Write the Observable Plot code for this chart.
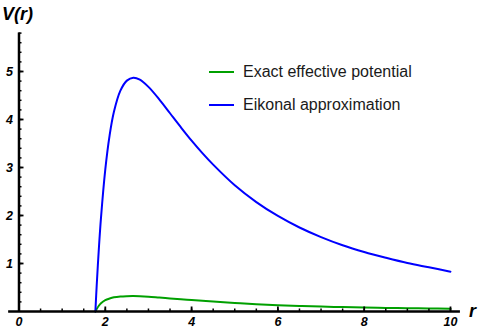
<!DOCTYPE html>
<html>
<head>
<meta charset="utf-8">
<script src="https://cdn.jsdelivr.net/npm/d3@7"></script>
<script src="https://cdn.jsdelivr.net/npm/@observablehq/plot@0.6"></script>
<style>
  html, body { margin: 0; padding: 0; background: #fff; }
  #wrap { position: relative; width: 480px; height: 335px; font-family: "Liberation Sans", Arial, sans-serif; }
  .axlabel { position: absolute; font-family: "Liberation Sans", Arial, sans-serif; font-weight: bold; font-style: italic; font-size: 18px; color: #000; line-height: 1; }
  #legend { position: absolute; left: 209px; top: 62px; font-size: 16px; color: #1a1a1a; }
  #legend .row { display: flex; align-items: center; height: 20px; margin-bottom: 12.7px; }
  #legend .sw { display: inline-block; width: 25px; height: 0; border-top: 2px solid; margin-right: 9px; }
</style>
</head>
<body>
<div id="wrap"></div>
<script>
// Data
const r = [1.77,1.8,1.85,1.9,2.0,2.1,2.2,2.35,2.5,2.65,2.8,3.0,3.25,3.5,3.75,4.0,4.25,4.5,5.0,5.5,6.0,6.5,7.0,7.5,8.0,8.5,9.0,9.5,10.0];
const eikonal = [0,0.53,1.30,1.95,2.96,3.67,4.16,4.60,4.81,4.87,4.83,4.68,4.42,4.13,3.84,3.56,3.30,3.06,2.63,2.28,1.99,1.75,1.55,1.38,1.24,1.12,1.01,0.92,0.83];
const exact = [0,0.05,0.12,0.17,0.235,0.27,0.295,0.313,0.32,0.322,0.318,0.308,0.29,0.272,0.255,0.238,0.222,0.206,0.178,0.152,0.132,0.116,0.103,0.092,0.083,0.075,0.069,0.063,0.057];
const seriesNames = ["Exact effective potential", "Eikonal approximation"];
const seriesColors = ["#00a000", "#0000ff"];
const xTicks = [0, 2, 4, 6, 8, 10];
const yTicks = [1, 2, 3, 4, 5];
const xMinor = d3.range(0, 10.001, 0.5);
const yMinor = d3.range(0.2, 5.801, 0.2);
const xAxisLabel = "r";
const yAxisLabel = "V(r)";

const rows = [];
r.forEach((rv, i) => {
  rows.push({r: rv, v: exact[i], s: seriesNames[0]});
  rows.push({r: rv, v: eikonal[i], s: seriesNames[1]});
});

const fmt = d => String(d);

const chart = Plot.plot({
  width: 480,
  height: 335,
  marginLeft: 18.5,
  marginRight: 30,
  marginTop: 32.6,
  marginBottom: 24,
  style: {fontFamily: "'Liberation Sans', Arial, sans-serif", fontSize: "12.5px", fontWeight: "bold", fontStyle: "italic", color: "#000", background: "#fff", overflow: "visible"},
  x: {domain: [0, 10]},
  y: {domain: [0, 5.8]},
  color: {domain: seriesNames, range: seriesColors},
  marks: [
    Plot.line(rows, {x: "r", y: "v", z: "s", stroke: "s", strokeWidth: 2, curve: "catmull-rom"}),
    Plot.ruleY([0], {x1: -0.24, x2: 10.23, stroke: "#000", strokeWidth: 2.5}),
    Plot.ruleX([0], {y1: 0, y2: 5.8, stroke: "#000", strokeWidth: 2.5}),
    Plot.axisX({ticks: xMinor, tickSize: -2.5, text: null, label: null, strokeWidth: 1.5}),
    Plot.axisX({ticks: xTicks.filter(d => d !== 0), tickSize: -4.5, text: null, label: null, strokeWidth: 1.8}),
    Plot.axisX({ticks: xTicks, tickSize: 0, tickPadding: 6, tickFormat: fmt, label: null, fontWeight: "bold", fontStyle: "italic"}),
    Plot.axisY({ticks: yMinor, tickSize: -3, text: null, label: null, strokeWidth: 1.5}),
    Plot.axisY({ticks: yTicks, tickSize: -5, text: null, label: null, strokeWidth: 1.8}),
    Plot.axisY({ticks: yTicks, tickSize: 0, tickPadding: 6, tickFormat: fmt, label: null, fontWeight: "bold", fontStyle: "italic"})
  ]
});

const wrap = document.getElementById("wrap");
wrap.appendChild(chart);

const yl = document.createElement("div");
yl.className = "axlabel";
yl.textContent = yAxisLabel;
yl.style.left = "2px"; yl.style.top = "5px";
wrap.appendChild(yl);

const xl = document.createElement("div");
xl.className = "axlabel";
xl.textContent = xAxisLabel;
xl.style.left = "469px"; xl.style.top = "302px";
wrap.appendChild(xl);

const leg = document.createElement("div");
leg.id = "legend";
seriesNames.forEach((name, i) => {
  const row = document.createElement("div");
  row.className = "row";
  const sw = document.createElement("span");
  sw.className = "sw";
  sw.style.borderTopColor = seriesColors[i];
  const t = document.createElement("span");
  t.textContent = name;
  row.appendChild(sw); row.appendChild(t);
  leg.appendChild(row);
});
wrap.appendChild(leg);
</script>
</body>
</html>
